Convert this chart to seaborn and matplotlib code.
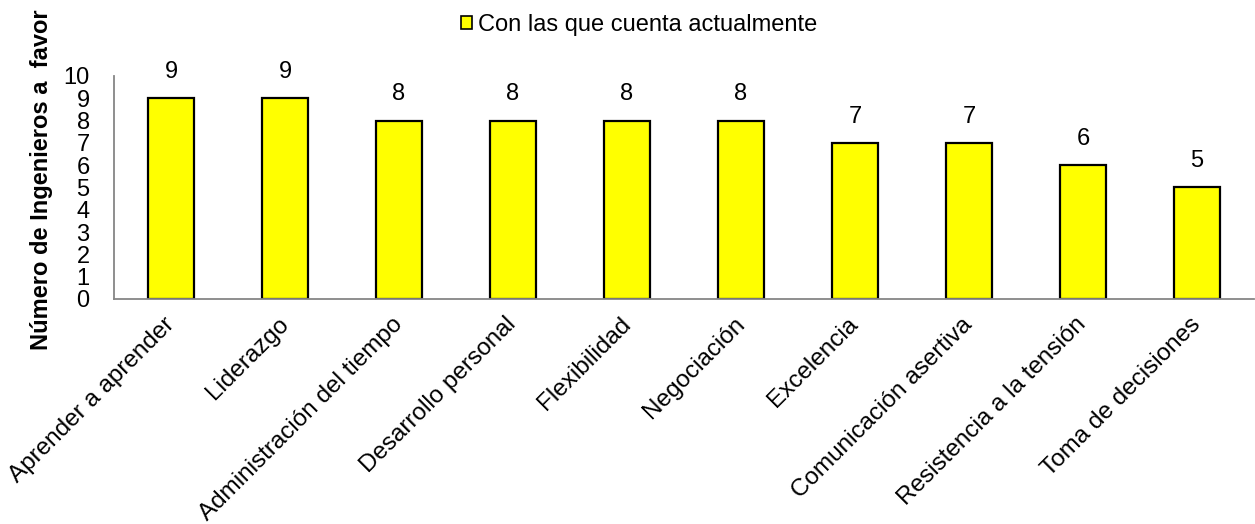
import matplotlib
matplotlib.use("Agg")
import matplotlib.pyplot as plt
import seaborn as sns
import numpy as np
from matplotlib.patches import Patch

habilidades = [
    "Aprender a aprender", "Liderazgo", "Administración del tiempo",
    "Desarrollo personal", "Flexibilidad", "Negociación", "Excelencia",
    "Comunicación asertiva", "Resistencia a la tensión", "Toma de decisiones",
]
ingenieros = [9, 9, 8, 8, 8, 8, 7, 7, 6, 5]
serie = "Con las que cuenta actualmente"
y_ticks = list(range(0, 11))

sns.set_theme(style="white")
plt.rcParams["font.family"] = ["Liberation Sans", "DejaVu Sans"]
plt.rcParams["text.color"] = "black"
plt.rcParams["xtick.color"] = "black"
plt.rcParams["ytick.color"] = "black"
plt.rcParams["xtick.labelcolor"] = "black"
plt.rcParams["ytick.labelcolor"] = "black"

FS = 17
AXIS_GREY = "#868686"

fig = plt.figure(figsize=(12.55, 5.24), dpi=100)
ax = fig.add_axes([0.0908, 0.4294, 0.9085, 0.4256])

sns.barplot(x=habilidades, y=ingenieros, color="#FFFF00", edgecolor="black",
            linewidth=1.6, width=0.4, saturation=1, ax=ax)

for c in ax.containers:
    ax.bar_label(c, labels=[str(v) for v in ingenieros], padding=11,
                 fontsize=FS, color="black")

ax.set_ylim(0, 10)
ax.set_xlim(-0.5, len(habilidades) - 0.5)
ax.set_yticks(y_ticks)
ax.set_yticklabels([str(t) for t in y_ticks], fontsize=FS)

ax.set_xticks(range(len(habilidades)))
ax.set_xticklabels(habilidades, rotation=45, ha="right", va="center",
                   rotation_mode="anchor", fontsize=17.5)
ax.set_xticks(np.arange(-0.5, len(habilidades), 1.0), minor=True)
ax.tick_params(axis="x", which="major", length=0, pad=16)
ax.tick_params(axis="x", which="minor", length=7, width=1.2, color=AXIS_GREY, direction="out")
ax.tick_params(axis="y", length=7, width=1.2, color=AXIS_GREY, direction="out", pad=10.5)

for s in ["top", "right"]:
    ax.spines[s].set_visible(False)
for s in ["left", "bottom"]:
    ax.spines[s].set_color(AXIS_GREY)
    ax.spines[s].set_linewidth(1.3)

ax.set_ylabel("")
fig.text(0.033, 0.658, "Número de Ingenieros a  favor", rotation=90, ha="center",
         va="center", fontsize=17, fontweight="bold")

handle = Patch(facecolor="#FFFF00", edgecolor="black", linewidth=1.2)
fig.legend([handle], [serie], loc="center left", bbox_to_anchor=(0.367, 0.953),
           frameon=False, fontsize=FS, handlelength=0.5, handleheight=0.5,
           handletextpad=0.25, borderaxespad=0, borderpad=0)

fig.savefig("out.png", dpi=100)
